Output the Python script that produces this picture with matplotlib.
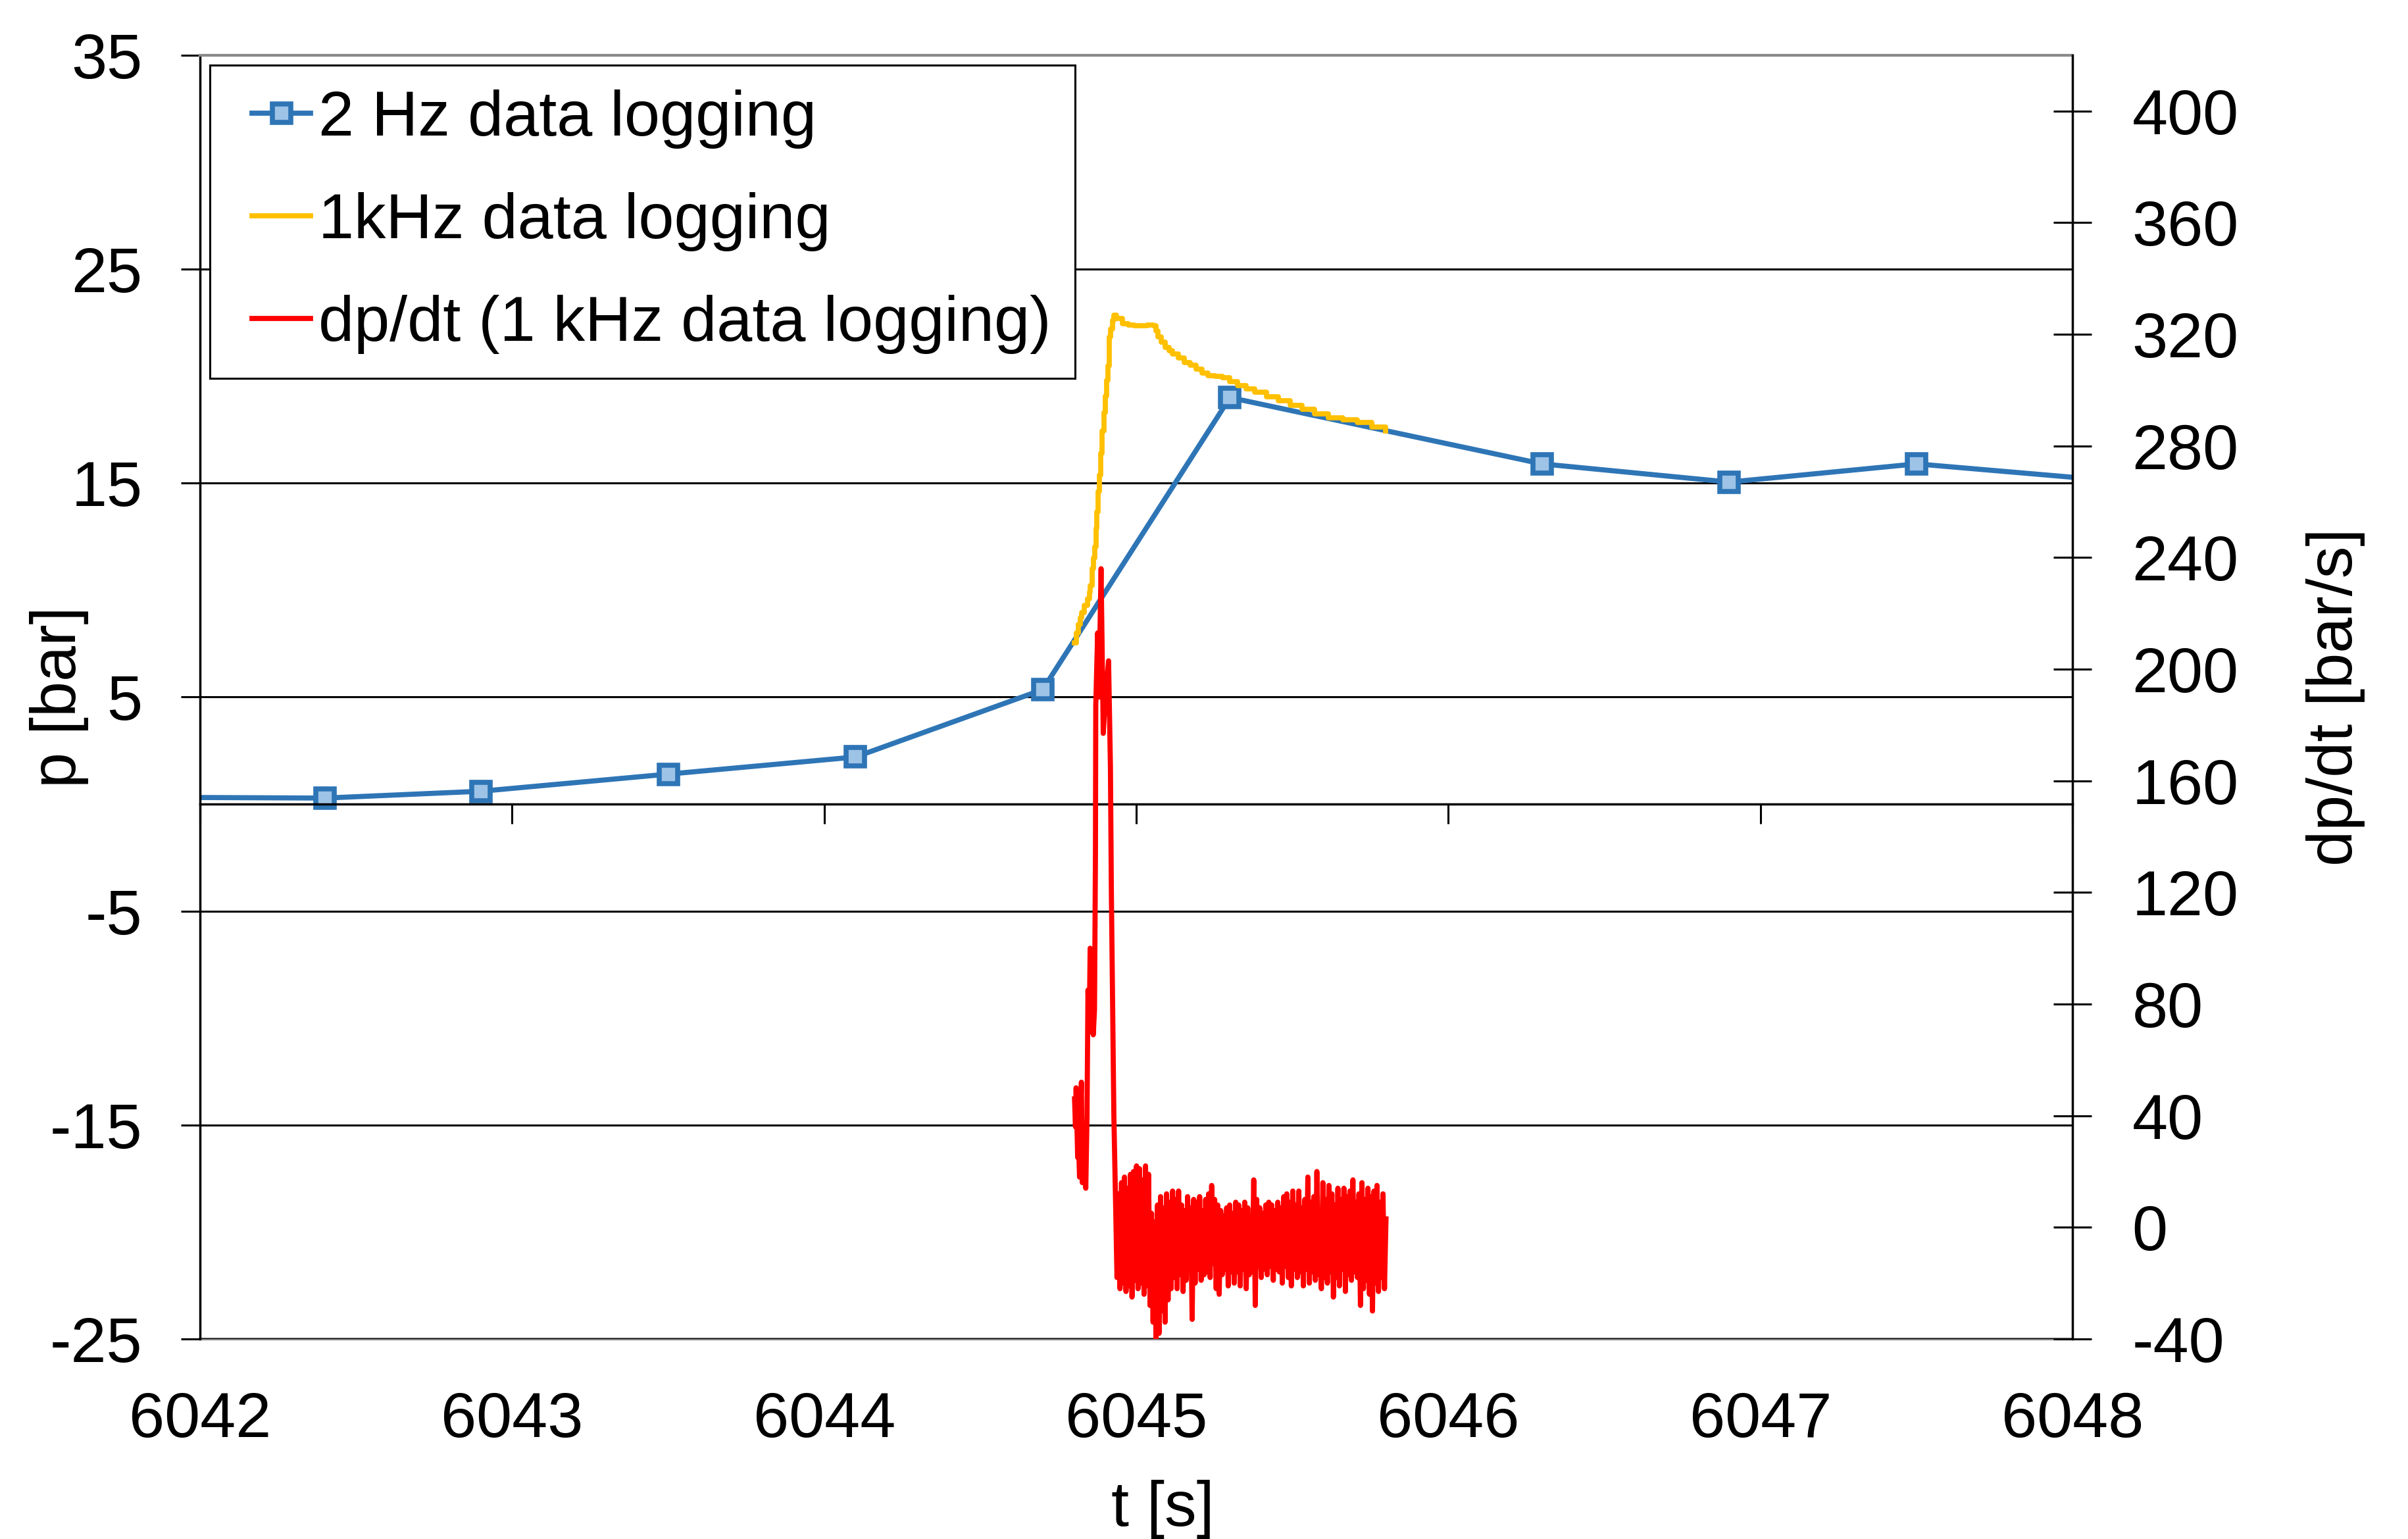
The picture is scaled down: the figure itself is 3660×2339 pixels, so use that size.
import matplotlib
matplotlib.use("Agg")
import matplotlib.pyplot as plt
import numpy as np
from matplotlib.lines import Line2D
from matplotlib.legend_handler import HandlerLine2D

plt.rcParams["font.family"] = ["Liberation Sans", "DejaVu Sans"]
plt.rcParams["axes.unicode_minus"] = False

# 2 Hz data logging: pressure [bar]
t_2hz = [6041.8, 6042.4, 6042.9, 6043.5, 6044.1, 6044.7, 6045.3, 6046.3, 6046.9, 6047.5, 6048.1]
p_2hz = [0.32, 0.28, 0.6, 1.4, 2.2, 5.35, 19.0, 15.9, 15.05, 15.9, 15.15]

# 1 kHz data logging: pressure [bar]
t_1khz = [6044.801, 6044.808, 6044.815, 6044.820, 6044.825, 6044.834, 6044.844, 6044.849,
          6044.853, 6044.858, 6044.863, 6044.867, 6044.871, 6044.874, 6044.878, 6044.881,
          6044.886, 6044.891, 6044.896, 6044.900, 6044.905, 6044.909, 6044.914, 6044.918,
          6044.923, 6044.928, 6044.936, 6044.956, 6044.975, 6044.994, 6045.015, 6045.035,
          6045.055, 6045.062, 6045.069, 6045.080, 6045.093, 6045.105, 6045.116, 6045.135,
          6045.154, 6045.173, 6045.192, 6045.210, 6045.229, 6045.252, 6045.276, 6045.300,
          6045.324, 6045.352, 6045.380, 6045.418, 6045.455, 6045.492, 6045.530, 6045.572,
          6045.615, 6045.662, 6045.709, 6045.755, 6045.799]
p_1khz = [7.55, 8.0, 8.41, 8.7, 8.96, 9.3, 9.59, 9.9, 10.22, 11.0, 11.5, 12.02, 12.9, 13.67,
          14.6, 15.39, 16.4, 17.43, 18.3, 19.08, 19.8, 20.49, 21.83, 22.2, 22.61, 22.84, 22.7,
          22.45, 22.4, 22.37, 22.35, 22.4, 22.37, 22.1, 21.83, 21.6, 21.35, 21.2, 21.04, 20.85,
          20.65, 20.5, 20.34, 20.15, 20.02, 20.0, 19.94, 19.75, 19.55, 19.4, 19.24, 19.05,
          18.84, 18.65, 18.45, 18.25, 18.06, 17.95, 17.83, 17.62, 17.43]

# dp/dt [bar/s] during the pressure rise
t_rise = [6044.802, 6044.805, 6044.807, 6044.812, 6044.815, 6044.818, 6044.822, 6044.824,
          6044.827, 6044.830, 6044.836, 6044.838, 6044.842, 6044.845, 6044.849, 6044.852,
          6044.857, 6044.862, 6044.866, 6044.869, 6044.870, 6044.876, 6044.880, 6044.887,
          6044.894, 6044.901, 6044.911, 6044.917, 6044.920, 6044.924, 6044.928, 6044.934]
dpdt_rise = [46, 36, 50, 25, 30, 18, 45, 52, 16, 30, 20, 14, 40, 85, 70, 100, 80, 69, 78, 134,
             187, 213, 190, 236, 177, 190, 203, 165, 120, 80, 40, 6]

# dp/dt [bar/s] after the peak, read sample by sample
noise_start, noise_end = 6044.938, 6045.800
dpdt_noise = [
    -18, 12, -22, 16, -20, 18, -23, 14, -21, 19,
    -25, 20, -19, 22, -22, 21, -20, 17, -24, 22,
    -21, 19, -28, 5, -34, 2, -42, 8, -38, 11,
    -30, 7, -34, 12, -26, 9, -22, 13, -18, 10,
    -22, 13, -17, 8, -23, 6, -19, 11, -16, 7,
    -33, 10, -20, 9, -15, 11, -19, 6, -17, 10,
    -16, 12, -18, 15, -13, 10, -22, 8, -24, 6,
    -17, 4, -15, 7, -21, 8, -16, 5, -20, 9,
    -16, 8, -21, 6, -15, 9, -22, 7, -17, 4,
    -16, 17, -28, 10, -14, 7, -18, 5, -15, 8,
    -17, 9, -14, 8, -19, 6, -15, 9, -16, 7,
    -20, 11, -14, 12, -18, 9, -21, 13, -15, 8,
    -18, 13, -16, 7, -21, 10, -15, 18, -20, 9,
    -16, 11, -19, 20, -17, 6, -22, 16, -18, 10,
    -20, 15, -16, 12, -25, 8, -18, 14, -21, 10,
    -15, 14, -23, 11, -17, 13, -19, 17, -16, 9,
    -18, 12, -28, 16, -22, 10, -19, 14, -24, 11,
    -30, 13, -20, 15, -23, 9, -18, 12, -22, 3,
]

x_ticks = [6042, 6043, 6044, 6045, 6046, 6047, 6048]
p_ticks = [-25, -15, -5, 5, 15, 25, 35]
dpdt_ticks = [-40, 0, 40, 80, 120, 160, 200, 240, 280, 320, 360, 400]

BLUE = "#2E75B6"
LIGHT_BLUE = "#9DC3E6"
YELLOW = "#FFC000"
RED = "#FF0000"
GRAY = "#898989"
FS = 70
LW = 5.6

fig = plt.figure(figsize=(36.6, 23.39), dpi=100)
ax = fig.add_axes([0.0831, 0.1300, 0.7776, 0.8341])
ax2 = ax.twinx()

ax.plot(t_2hz, p_2hz, color=BLUE, lw=LW, marker="s", ms=19.5, mew=5.5,
        mfc=LIGHT_BLUE, mec=BLUE, solid_joinstyle="round", label="2 Hz data logging")
ax.plot(t_1khz, p_1khz, color=YELLOW, lw=LW, drawstyle="steps-post",
        label="1kHz data logging")

noise_t = np.linspace(noise_start, noise_end, len(dpdt_noise))
t_red = np.concatenate([t_rise, noise_t])
v_red = np.concatenate([dpdt_rise, dpdt_noise])
ax2.plot(t_red, v_red, color=RED, lw=LW, solid_joinstyle="round",
         label="dp/dt (1 kHz data logging)")

ax.set_xlim(6042, 6048)
ax.set_ylim(-25, 35)
ax2.set_ylim(-40, 420)

# grid
ax.set_yticks(p_ticks)
ax.set_yticklabels([str(v) for v in p_ticks])
ax.yaxis.grid(True, color="black", lw=2.2)
ax.set_axisbelow(True)

# spines
ax.spines["left"].set_color("black")
ax.spines["left"].set_linewidth(2.5)
ax.spines["top"].set_color(GRAY)
ax.spines["top"].set_linewidth(3)
ax.spines["right"].set_visible(False)
ax.spines["bottom"].set_position(("data", 0))
ax.spines["bottom"].set_color("black")
ax.spines["bottom"].set_linewidth(2.5)
for s in ["top", "bottom", "left"]:
    ax2.spines[s].set_visible(False)
ax2.spines["right"].set_color("black")
ax2.spines["right"].set_linewidth(2.5)

ax.set_xticks(x_ticks)
ax.tick_params(axis="x", direction="out", length=21.6, width=2.2, labelbottom=False)
ax.tick_params(axis="y", direction="out", length=21, width=2.2, pad=42, labelsize=FS)

secax = ax.secondary_xaxis("bottom")
secax.set_xticks(x_ticks)
secax.set_xticklabels([str(v) for v in x_ticks])
secax.tick_params(length=0, pad=57, labelsize=FS)
secax.spines["bottom"].set_color(GRAY)
secax.spines["bottom"].set_linewidth(3)

ax2.set_yticks(dpdt_ticks)
ax2.set_yticklabels([str(v) for v in dpdt_ticks])
ax2.tick_params(axis="y", direction="inout", length=41.8, width=2.2, pad=44, labelsize=FS)

# axis labels
ax.set_xlabel("t [s]", fontsize=FS, va="center")
ax.xaxis.set_label_coords(0.514, -0.133)
ax.set_ylabel("p [bar]", fontsize=FS, va="center")
ax.yaxis.set_label_coords(-0.0752, 0.5)
ax2.set_ylabel("dp/dt [bar/s]", fontsize=FS, va="center")
ax2.yaxis.set_label_coords(1.1405, 0.5)

handles = ax.get_lines() + ax2.get_lines()
leg = ax2.legend(handles=handles, labels=[h.get_label() for h in handles],
                 loc="upper left", bbox_to_anchor=(0.0053, 0.9923), borderaxespad=0,
                 fontsize=FS, frameon=True, fancybox=False, framealpha=1,
                 edgecolor="black", borderpad=0.38, labelspacing=0.68,
                 handlelength=1.19, handletextpad=0.12,
                 handler_map={Line2D: HandlerLine2D(xpad=0.28)})
leg.get_frame().set_linewidth(2.2)
for h in leg.get_lines():
    h.set_drawstyle("default")

fig.savefig("out.png", dpi=100)
